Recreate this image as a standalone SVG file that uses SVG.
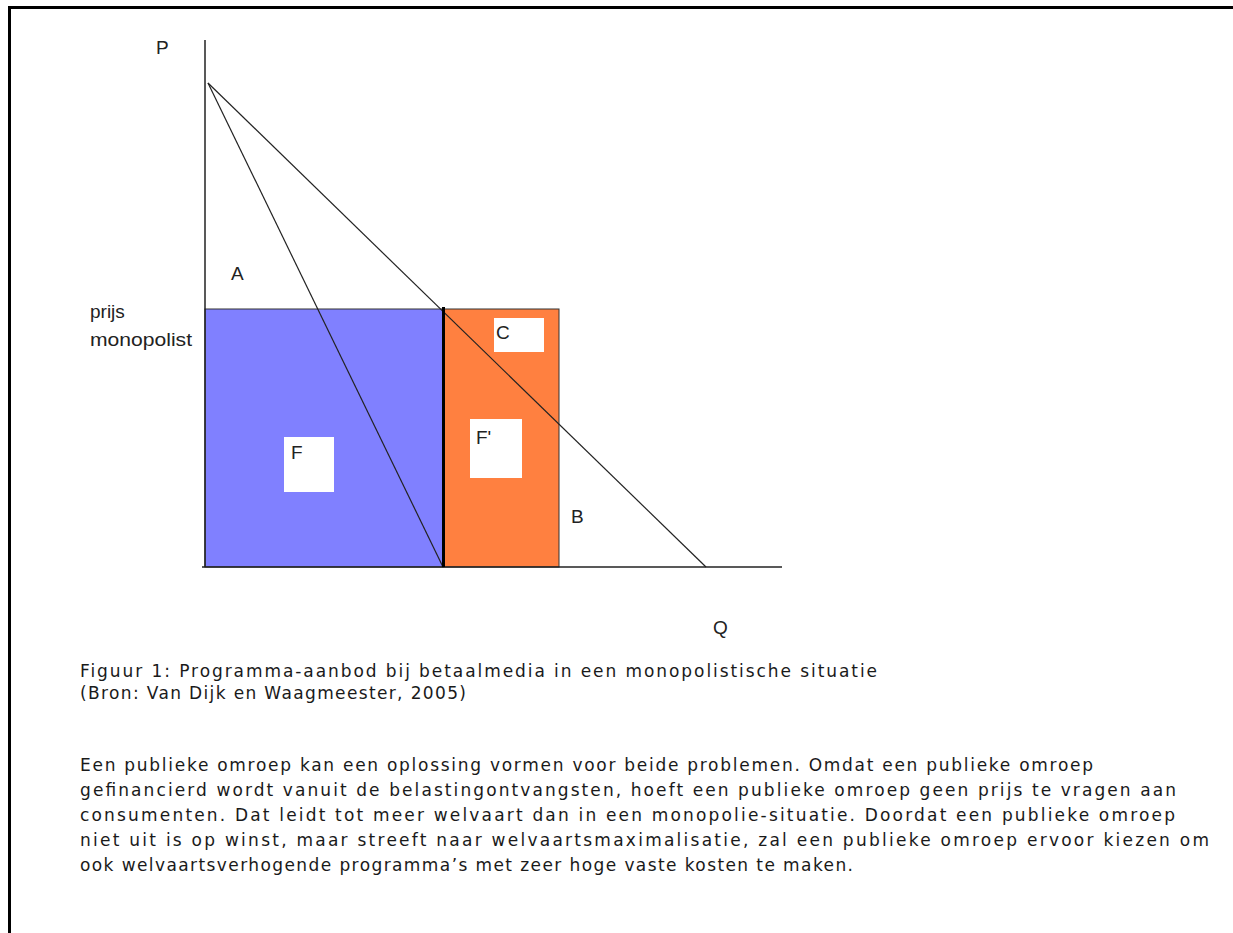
<svg xmlns="http://www.w3.org/2000/svg" width="1233" height="933" viewBox="0 0 1233 933">
<style>
.lbl{font-family:"Liberation Sans",Arial,sans-serif;font-size:19px;fill:#222}
.txt{font-family:"DejaVu Sans",Verdana,sans-serif;font-size:17px;fill:#1a1a1a}
.ax{stroke:#222;stroke-width:1.5;fill:none}
.ln{stroke:#222;stroke-width:1.2;fill:none}
.box{fill:#fff}
</style>
<rect width="1233" height="933" fill="#fff"/>
<g id="border">
<line x1="9.5" y1="6" x2="9.5" y2="933" stroke="#000" stroke-width="3"/>
<line x1="8" y1="7.5" x2="1233" y2="7.5" stroke="#000" stroke-width="3"/>
</g>
<g id="area-F">
<rect x="205" y="309" width="238" height="258" fill="#8080FF" stroke="#333" stroke-width="1"/>
</g>
<g id="area-Fprime">
<rect x="443" y="309" width="116" height="258" fill="#FF8040" stroke="#333" stroke-width="1"/>
</g>
<g id="axes">
<line class="ax" x1="205" y1="40" x2="205" y2="567"/>
<line class="ax" x1="202" y1="567" x2="782" y2="567"/>
</g>
<g id="connectors">
<line class="ln" x1="208" y1="83" x2="706" y2="567"/>
<line class="ln" x1="208" y1="83" x2="443" y2="567"/>
<line x1="443.5" y1="307" x2="443.5" y2="567" stroke="#000" stroke-width="3"/>
</g>
<g id="box-C"><rect class="box" x="494" y="318" width="50" height="34"/><text class="lbl" x="496" y="339">C</text></g>
<g id="box-Fp"><rect class="box" x="470" y="419" width="52" height="59"/><text class="lbl" x="476" y="444">F'</text></g>
<g id="box-F"><rect class="box" x="284" y="437" width="50" height="55"/><text class="lbl" x="291" y="459">F</text></g>
<g id="labels">
<text class="lbl" x="156" y="54">P</text>
<text class="lbl" x="231" y="280">A</text>
<text class="lbl" x="90" y="318">prijs</text>
<text class="lbl" x="90" y="346" textLength="102" lengthAdjust="spacingAndGlyphs">monopolist</text>
<text class="lbl" x="571" y="523">B</text>
<text class="lbl" x="713" y="634">Q</text>
</g>
<g id="caption">
<text class="txt" x="80" y="677" textLength="797" lengthAdjust="spacing">Figuur 1: Programma-aanbod bij betaalmedia in een monopolistische situatie</text>
<text class="txt" x="80" y="699" textLength="386" lengthAdjust="spacing">(Bron: Van Dijk en Waagmeester, 2005)</text>
</g>
<g id="paragraph">
<text class="txt" x="80" y="771" textLength="1013" lengthAdjust="spacing">Een publieke omroep kan een oplossing vormen voor beide problemen. Omdat een publieke omroep</text>
<text class="txt" x="80" y="796" textLength="1096" lengthAdjust="spacing">gefinancierd wordt vanuit de belastingontvangsten, hoeft een publieke omroep geen prijs te vragen aan</text>
<text class="txt" x="80" y="821" textLength="1095" lengthAdjust="spacing">consumenten. Dat leidt tot meer welvaart dan in een monopolie-situatie. Doordat een publieke omroep</text>
<text class="txt" x="80" y="846" textLength="1129" lengthAdjust="spacing">niet uit is op winst, maar streeft naar welvaartsmaximalisatie, zal een publieke omroep ervoor kiezen om</text>
<text class="txt" x="80" y="871" textLength="773" lengthAdjust="spacing">ook welvaartsverhogende programma’s met zeer hoge vaste kosten te maken.</text>
</g>
</svg>
